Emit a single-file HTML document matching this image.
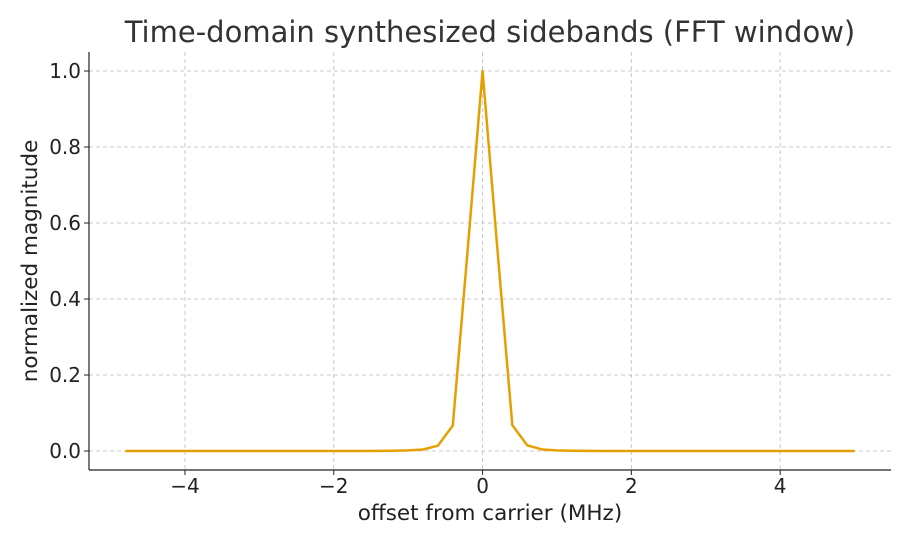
<!DOCTYPE html>
<html><head><meta charset="utf-8"><style>
body{margin:0;background:#fff;font-family:"Liberation Sans","DejaVu Sans",sans-serif}
svg text{font-family:"DejaVu Sans","Liberation Sans",sans-serif}
</style></head><body>
<svg id="chart" width="910" height="546" xmlns="http://www.w3.org/2000/svg">
<text x="490" y="42" text-anchor="middle" font-size="29" fill="#333">Time-domain synthesized sidebands (FFT window)</text>
<g id="grid"></g><g id="series"></g><g id="axes"></g>
<text x="490" y="520" text-anchor="middle" font-size="21.5" fill="#222">offset from carrier (MHz)</text>
<text transform="translate(37,261) rotate(-90)" text-anchor="middle" font-size="21.5" fill="#222">normalized magnitude</text>
</svg>
<script>
const xs=[-4.8,-4.6,-4.4,-4.2,-4,-3.8,-3.6,-3.4,-3.2,-3,-2.8,-2.6,-2.4,-2.2,-2,-1.8,-1.6,-1.4,-1.2,-1,-0.8,-0.6,-0.4,-0.2,0,0.2,0.4,0.6,0.8,1,1.2,1.4,1.6,1.8,2,2.2,2.4,2.6,2.8,3,3.2,3.4,3.6,3.8,4,4.2,4.4,4.6,4.8,5];
const ys=[0,0,0,0,0,0,0,0,0,0,0,0,0,0,0,0,0,0.0003,0.0008,0.0015,0.004,0.014,0.067,0.53,1,0.53,0.068,0.015,0.004,0.0015,0.0008,0.0003,0,0,0,0,0,0,0,0,0,0,0,0,0,0,0,0,0,0];
const xTicks=[-4,-2,0,2,4];
const yTicks=[0,0.2,0.4,0.6,0.8,1.0];
const L=89,R=891,T=52,B=470,xmin=-5.29,xmax=5.49,ymin=-0.05,ymax=1.05;
const X=v=>L+(v-xmin)/(xmax-xmin)*(R-L), Y=v=>B-(v-ymin)/(ymax-ymin)*(B-T);
const NS="http://www.w3.org/2000/svg";
function mk(p,t,a){const e=document.createElementNS(NS,t);for(const k in a)e.setAttribute(k,a[k]);p.appendChild(e);return e;}
const g=document.getElementById('grid'),ax=document.getElementById('axes'),s=document.getElementById('series');
xTicks.forEach(v=>{const x=X(v);
 const l=mk(g,'line',{x1:x,x2:x,y1:T,y2:B,stroke:'#c8c8c8','stroke-dasharray':'4,3'});
 
 
 mk(ax,'line',{x1:x,x2:x,y1:B,y2:B+5,stroke:'#222'});
 const t=mk(ax,'text',{x:x,y:B+23,'text-anchor':'middle','font-size':20,fill:'#222'});
 t.textContent=(v<0?'\u2212'+(-v):v);
 
 });
yTicks.forEach(v=>{const y=Y(v);
 const l=mk(g,'line',{x1:L,x2:R,y1:y,y2:y,stroke:'#c8c8c8','stroke-dasharray':'4,3'});
 
 
 mk(ax,'line',{x1:L-5,x2:L,y1:y,y2:y,stroke:'#222'});
 const t=mk(ax,'text',{x:L-8,y:y+7,'text-anchor':'end','font-size':20,fill:'#222'});
 t.textContent=v.toFixed(1);
 
 });
mk(ax,'line',{x1:L,x2:L,y1:T,y2:B,stroke:'#222','stroke-width':1.2});
mk(ax,'line',{x1:L,x2:R,y1:B,y2:B,stroke:'#222','stroke-width':1.2});
const p=mk(s,'polyline',{points:xs.map((x,i)=>X(x)+','+Y(ys[i])).join(' '),fill:'none',stroke:'#e69f00','stroke-width':2.5,'stroke-linejoin':'round'});


</script>
</body></html>
